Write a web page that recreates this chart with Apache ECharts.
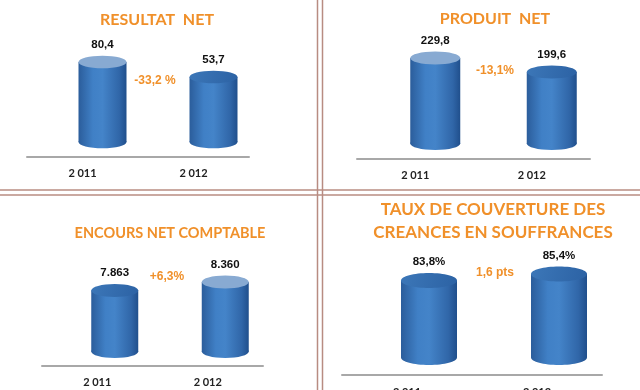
<!DOCTYPE html>
<html>
<head>
<meta charset="utf-8">
<script src="https://cdn.jsdelivr.net/npm/echarts@6/dist/echarts.min.js"></script>
<style>html,body{margin:0;padding:0;background:#fff}#c{width:640px;height:390px}</style>
</head>
<body>
<div id="c"></div>
<script>
// ---- data ----
var categories = ['2 011', '2 012'];
var resultatNet = [80.4, 53.7];
var produitNet = [229.8, 199.6];
var encoursNet = [7863, 8360];
var tauxCouverture = [83.8, 85.4];
var titles = ['RESULTAT  NET', 'PRODUIT  NET', 'ENCOURS NET COMPTABLE', 'TAUX DE COUVERTURE DES\nCREANCES EN SOUFFRANCES'];
var changes = ['-33,2 %', '-13,1%', '+6,3%', '1,6 pts'];

function fmtDec(v) { return v.toFixed(1).replace('.', ','); }
function fmtThousands(v) { return String(v).replace(/\B(?=(\d{3})+(?!\d))/g, '.'); }
function fmtPct(v) { return fmtDec(v) + '%'; }

// ---- layout / style ----
var panels = [
  { values: resultatNet, fmt: fmtDec, grid: { left: 27, width: 222, top: 56.5, height: 100 }, min: -62, max: 116,
    dx: 20, dy: 14.5, rx: 24, ry: 6.3, lightTop: [true, false], margin: 11,
    title: { x: 157, y: 20, size: 16 }, change: { x: 155, y: 81 } },
  { values: produitNet, fmt: fmtDec, grid: { left: 357, width: 233, top: 59, height: 100 }, min: 45, max: 261,
    dx: 20, dy: 15.5, rx: 25, ry: 6.5, lightTop: [true, false], margin: 11,
    title: { x: 495, y: 19, size: 16 }, change: { x: 495, y: 71 } },
  { values: encoursNet, fmt: fmtThousands, grid: { left: 42, width: 221, top: 266, height: 100 }, min: 4288, max: 10146,
    dx: 17.5, dy: 14.5, rx: 23.5, ry: 6.5, lightTop: [false, true], margin: 11,
    title: { x: 170, y: 233, size: 14.5 }, change: { x: 167, y: 277 } },
  { values: tauxCouverture, fmt: fmtPct, grid: { left: 342, width: 260, top: 275, height: 100 }, min: 64.8, max: 89.47,
    dx: 22, dy: 17.5, rx: 28, ry: 7.5, lightTop: [false, false], margin: 12,
    title: { x: 493, y: 221.5, size: 17 }, change: { x: 495, y: 273 } }
];

var orange = '#f0902a';

function bodyGrad() {
  return new echarts.graphic.LinearGradient(0, 0, 1, 0, [
    { offset: 0, color: '#2b5d9b' },
    { offset: 0.3, color: '#4080c6' },
    { offset: 0.5, color: '#4484c9' },
    { offset: 0.85, color: '#3066a8' },
    { offset: 1, color: '#204f8c' }
  ]);
}

var grids = [], xAxes = [], yAxes = [], series = [], graphics = [];
panels.forEach(function (p, pi) {
  var g = Object.assign({ outerBoundsMode: 'none', containLabel: false }, p.grid);
  grids.push(g);
  xAxes.push({
    type: 'category', gridIndex: pi, data: categories, boundaryGap: true,
    axisLine: { onZero: false, lineStyle: { color: '#a8a8a8', width: 2 } },
    axisTick: { show: false },
    axisLabel: { margin: p.margin, color: '#222', fontSize: 11, fontWeight: 'bold', fontFamily: 'Lato' }
  });
  yAxes.push({ type: 'value', gridIndex: pi, min: p.min, max: p.max, show: false, splitLine: { show: false } });
  series.push({
    type: 'custom', xAxisIndex: pi, yAxisIndex: pi,
    data: p.values.map(function (v, i) { return [i, v]; }),
    encode: { x: 0, y: 1 },
    renderItem: function (params, api) {
      var i = api.value(0), v = api.value(1);
      var topPt = api.coord([i, v]);
      var basePt = api.coord([i, p.min]);
      var cx = topPt[0] + p.dx;
      var yt = topPt[1] - p.dy;
      var yb = basePt[1] - p.dy;
      var light = p.lightTop[params.dataIndex];
      return {
        type: 'group',
        children: [
          { type: 'ellipse', shape: { cx: cx, cy: yb, rx: p.rx, ry: p.ry }, style: { fill: bodyGrad() } },
          { type: 'rect', shape: { x: cx - p.rx, y: yt, width: 2 * p.rx, height: yb - yt }, style: { fill: bodyGrad() } },
          { type: 'ellipse', shape: { cx: cx, cy: yt, rx: p.rx, ry: p.ry },
            style: { fill: light ? '#88aad2' : new echarts.graphic.LinearGradient(0, 0, 1, 1, [
              { offset: 0, color: '#3c77b8' }, { offset: 1, color: '#2c62a4' }]) } },
          { type: 'text', style: { text: p.fmt(v), x: cx, y: yt - p.ry - 11, align: 'center', verticalAlign: 'middle',
              fill: '#111', font: 'bold 11.5px "Liberation Sans", Arial' } }
        ]
      };
    }
  });
  graphics.push({ type: 'text', x: p.title.x, y: p.title.y,
    style: { text: titles[pi], align: 'center', verticalAlign: 'middle', fill: orange,
      font: 'bold ' + p.title.size + 'px Lato', lineHeight: 23 } });
  graphics.push({ type: 'text', x: p.change.x, y: p.change.y,
    style: { text: changes[pi], align: 'center', verticalAlign: 'middle', fill: orange,
      font: 'bold 12px "Liberation Sans", Arial' } });
});

// panel borders
var bc = '#b88c82';
[317.5, 322.5].forEach(function (x) {
  graphics.push({ type: 'line', shape: { x1: x, y1: 0, x2: x, y2: 390 }, style: { stroke: bc, lineWidth: 1.5 } });
});
[190, 195].forEach(function (y) {
  graphics.push({ type: 'line', shape: { x1: 0, y1: y, x2: 640, y2: y }, style: { stroke: bc, lineWidth: 1.5 } });
});

var chart = echarts.init(document.getElementById('c'), null, { renderer: 'canvas' });
chart.setOption({
  animation: false,
  backgroundColor: '#fff',
  grid: grids, xAxis: xAxes, yAxis: yAxes, series: series, graphic: graphics
});
</script>
</body>
</html>
